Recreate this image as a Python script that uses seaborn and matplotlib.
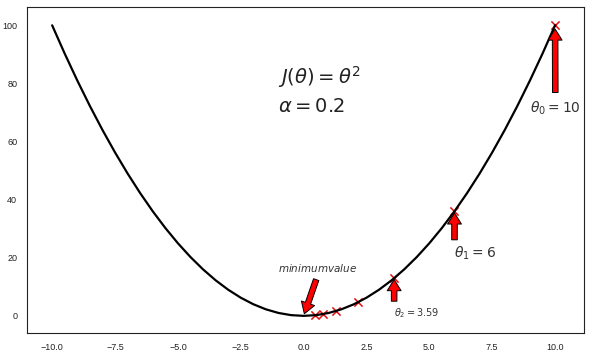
import matplotlib
matplotlib.use('Agg')
import matplotlib.pyplot as plt
import seaborn as sns

# curve J(theta) = theta^2, sampled every 0.5
theta = [-10, -9.5, -9, -8.5, -8, -7.5, -7, -6.5, -6, -5.5, -5, -4.5, -4, -3.5, -3, -2.5, -2, -1.5, -1, -0.5,
         0, 0.5, 1, 1.5, 2, 2.5, 3, 3.5, 4, 4.5, 5, 5.5, 6, 6.5, 7, 7.5, 8, 8.5, 9, 9.5, 10]
J = [100, 90.25, 81, 72.25, 64, 56.25, 49, 42.25, 36, 30.25, 25, 20.25, 16, 12.25, 9, 6.25, 4, 2.25, 1, 0.25,
     0, 0.25, 1, 2.25, 4, 6.25, 9, 12.25, 16, 20.25, 25, 30.25, 36, 42.25, 49, 56.25, 64, 72.25, 81, 90.25, 100]

# gradient descent steps (alpha = 0.2)
step_theta = [10, 6, 3.6, 2.16, 1.3, 0.78, 0.47]
step_J = [100, 36, 12.96, 4.67, 1.68, 0.6, 0.22]

sns.set_style('white')
fig, ax = plt.subplots(figsize=(5.92, 3.53), dpi=100)
fig.subplots_adjust(left=27 / 592, right=584 / 592, top=1 - 7 / 353, bottom=1 - 333 / 353)

sns.lineplot(x=theta, y=J, color='black', linewidth=1.6, ax=ax)
sns.scatterplot(x=step_theta, y=step_J, marker='x', color='#e01010', s=35, linewidth=1.1, ax=ax)

arrow = dict(facecolor='red', edgecolor='black', shrink=0.05, width=4, headwidth=10, headlength=8, linewidth=0.7)
ax.annotate(r'$\theta_0=10$', xy=(10, 100), xytext=(9, 70), fontsize=10, color='#333333', arrowprops=arrow)
ax.annotate(r'$\theta_1=6$', xy=(6, 36), xytext=(6, 20), fontsize=10, color='#333333', arrowprops=arrow)
ax.annotate(r'$\theta_2=3.59$', xy=(3.6, 12.96), xytext=(3.6, 0), fontsize=7, color='#333333', arrowprops=arrow)
ax.annotate(r'$minimum value$', xy=(0, 0), xytext=(-1, 15), fontsize=7.5, color='#333333', arrowprops=arrow)

ax.text(-1, 80, r'$J(\theta)=\theta^2$', fontsize=14, color='#222222')
ax.text(-1, 70, r'$\alpha=0.2$', fontsize=14, color='#222222')

ax.set_xlim(-11, 11.15)
ax.set_ylim(-5.9, 106.3)

for spine in ax.spines.values():
    spine.set_color('#222222')
ax.tick_params(labelsize=6.5, colors='#222222')
for lab in ax.get_xticklabels() + ax.get_yticklabels():
    lab.set_family('Liberation Sans')

fig.savefig('out.png', dpi=100)
